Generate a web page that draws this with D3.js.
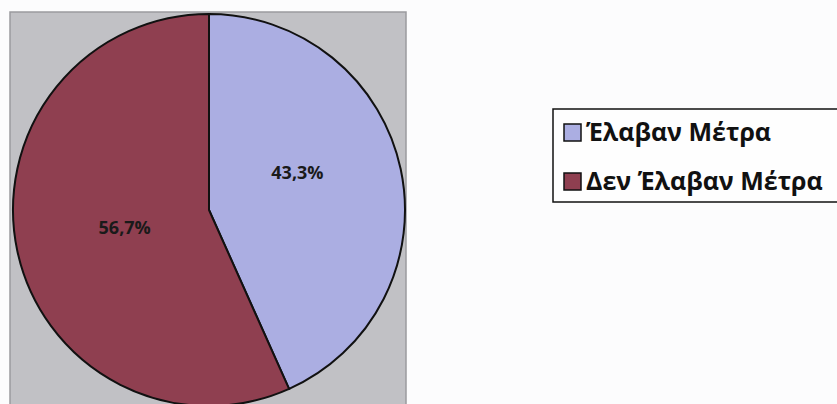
<!DOCTYPE html>
<html>
<head>
<meta charset="utf-8">
<script src="https://cdn.jsdelivr.net/npm/d3@7"></script>
<style>
  html, body { margin: 0; padding: 0; background: #fcfcfd; }
  svg { display: block; }
  text { font-family: "Open Sans", "Noto Sans", sans-serif; font-weight: 700; }
</style>
</head>
<body>
<svg id="chart" width="837" height="404"></svg>
<script>
// Share of cases that received measures
const categories = ["Έλαβαν Μέτρα", "Δεν Έλαβαν Μέτρα"];
const values = [43.3, 56.7];
const colors = ["#abaee2", "#8f3f50"];

const svg = d3.select("#chart");

// Plot area
const plot = { x: 10, y: 12, w: 396, h: 400 };
svg.append("rect")
  .attr("x", plot.x).attr("y", plot.y)
  .attr("width", plot.w).attr("height", plot.h)
  .attr("fill", "#c1c1c5")
  .attr("stroke", "#9a9a9e").attr("stroke-width", 1.5);

const cx = 209, cy = 210, r = 196;
const pie = d3.pie().sort(null).value(d => d)(values);
const arc = d3.arc().innerRadius(0).outerRadius(r);

const g = svg.append("g").attr("transform", `translate(${cx},${cy})`);
g.selectAll("path").data(pie).join("path")
  .attr("d", arc)
  .attr("fill", (d, i) => colors[i])
  .attr("stroke", "#111")
  .attr("stroke-width", 2);

// Data labels: placed along each slice, a little off the bisector for the smaller one
const labelRadius = [0.49 * r, 0.44 * r];
const labelTurn = [-0.19, 0];
const fmt = v => v.toFixed(1).replace(".", ",") + "%";
g.selectAll("text.lbl").data(pie).join("text")
  .attr("class", "lbl")
  .attr("transform", (d, i) => {
    const a = (d.startAngle + d.endAngle) / 2 + labelTurn[i];
    return `translate(${labelRadius[i] * Math.sin(a)},${-labelRadius[i] * Math.cos(a)})`;
  })
  .attr("text-anchor", "middle")
  .attr("dy", "0.35em")
  .attr("font-size", 18)
  .attr("fill", "#1a1a1a")
  .text(d => fmt(d.data));

// Legend
const legend = svg.append("g");
legend.append("rect")
  .attr("x", 553).attr("y", 109).attr("width", 300).attr("height", 93)
  .attr("fill", "#fefefe").attr("stroke", "#111").attr("stroke-width", 1.5);

const rowY = [132, 181];
categories.forEach((c, i) => {
  legend.append("rect")
    .attr("x", 564).attr("y", rowY[i] - 8).attr("width", 17).attr("height", 17)
    .attr("fill", colors[i]).attr("stroke", "#111").attr("stroke-width", 1.5);
  legend.append("text")
    .attr("x", 586).attr("y", rowY[i] + 9)
    .attr("font-size", 25).attr("fill", "#111")
    .text(c);
});
</script>
</body>
</html>
